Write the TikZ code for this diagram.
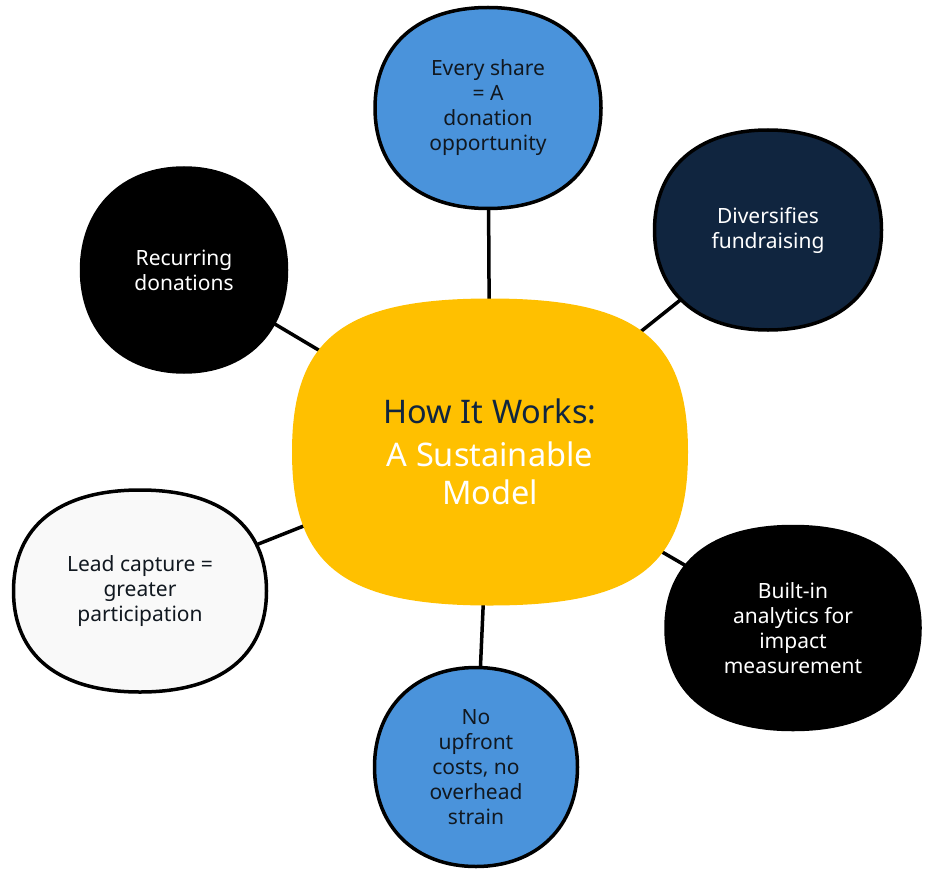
\documentclass[tikz,border=0pt]{standalone}
\usepackage{fontspec}
\setmainfont{Noto Sans}
\usetikzlibrary{backgrounds}
\definecolor{bblue}{HTML}{4A93DB}
\definecolor{navy}{HTML}{10253F}
\definecolor{gold}{HTML}{FFC000}
\definecolor{offwhite}{HTML}{F9F9F9}
\definecolor{ink}{HTML}{111820}
\newcommand\squircle[6]{% name, half-width, half-height, k, fill, draw options
  \path[shift={(#1.center)},fill=#5,#6]
    (0,-#3) .. controls ({#4*#2},-#3) and (#2,{-#4*#3}) .. (#2,0)
    .. controls (#2,{#4*#3}) and ({#4*#2},#3) .. (0,#3)
    .. controls ({-#4*#2},#3) and (-#2,{#4*#3}) .. (-#2,0)
    .. controls (-#2,{-#4*#3}) and ({-#4*#2},-#3) .. cycle;}
\begin{document}
\begin{tikzpicture}[x=1pt,y=-1pt,
  bub/.style={align=center,inner sep=0pt,font=\fontsize{21}{25}\selectfont},
  rim/.style={draw=black,line width=3.5pt},
  link/.style={line width=3.5pt,draw=black}]
\useasboundingbox (0,0) rectangle (925,869);
\node[bub,font=\fontsize{32.5}{38}\selectfont] (c) at (490,452)
  {\color{navy}How It Works:\\[5pt]\color{white}A Sustainable\\\color{white}Model};
\node[bub,text=ink] (t) at (488,108) {Every share\\= A\\donation\\opportunity};
\node[bub,text=white] (d) at (768,230) {Diversifies\\fundraising};
\node[bub,text=white] (r) at (184,270) {Recurring\\donations};
\node[bub,text=ink] (l) at (140,591) {Lead capture =\\greater\\participation};
\node[bub,text=white] (b) at (793,628) {Built-in\\analytics for\\impact\\measurement};
\node[bub,text=ink] (n) at (476,767) {No\\upfront\\costs, no\\overhead\\strain};
\begin{scope}[on background layer]
\draw[link] (t.center) -- (c.center);
\draw[link] (d.center) -- (c.center);
\draw[link] (r.center) -- (c.center);
\draw[link] (l.center) -- (c.center);
\draw[link] (b.center) -- (c.center);
\draw[link] (n.center) -- (c.center);
\squircle{c}{198}{153.5}{0.74}{gold}{}
\squircle{t}{113}{100.5}{0.62}{bblue}{rim}
\squircle{d}{113.5}{100}{0.62}{navy}{rim}
\squircle{r}{102.5}{102}{0.6}{black}{rim}
\squircle{l}{126.5}{101}{0.64}{offwhite}{rim}
\squircle{b}{127}{101.5}{0.64}{black}{rim}
\squircle{n}{101.5}{99.5}{0.6}{bblue}{rim}
\end{scope}
\end{tikzpicture}
\end{document}
